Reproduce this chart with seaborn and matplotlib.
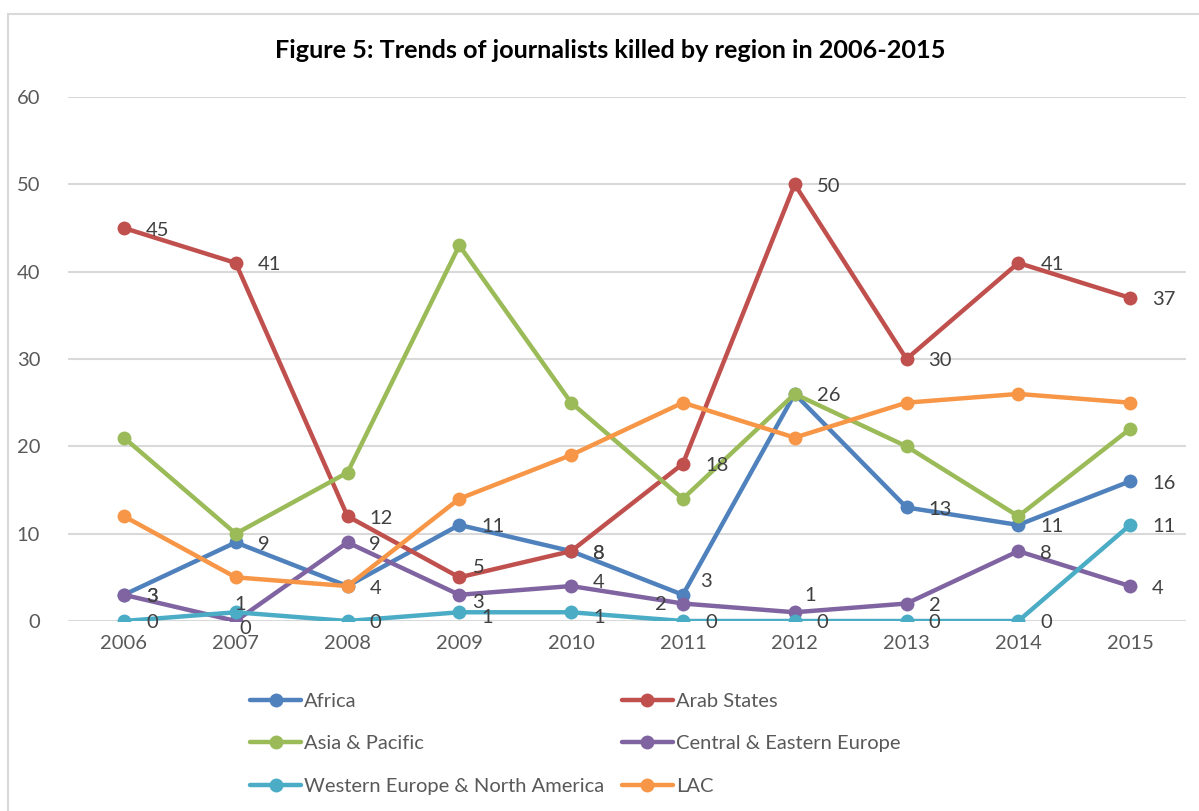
import numpy as np
import pandas as pd
import matplotlib
matplotlib.use("Agg")
import matplotlib.pyplot as plt
import seaborn as sns
from matplotlib.lines import Line2D
from matplotlib.patches import Rectangle

# ---------------- data ----------------
years = ["2006", "2007", "2008", "2009", "2010", "2011", "2012", "2013", "2014", "2015"]
africa = [3, 9, 4, 11, 8, 3, 26, 13, 11, 16]
arab_states = [45, 41, 12, 5, 8, 18, 50, 30, 41, 37]
asia_pacific = [21, 10, 17, 43, 25, 14, 26, 20, 12, 22]
central_eastern_europe = [3, 0, 9, 3, 4, 2, 1, 2, 8, 4]
western_europe_na = [0, 1, 0, 1, 1, 0, 0, 0, 0, 11]
lac = [12, 5, 4, 14, 19, 25, 21, 25, 26, 25]

series_names = ["Africa", "Arab States", "Asia & Pacific",
                "Central & Eastern Europe", "Western Europe & North America", "LAC"]
series_values = [africa, arab_states, asia_pacific,
                 central_eastern_europe, western_europe_na, lac]
labelled = {"Africa", "Arab States", "Central & Eastern Europe",
            "Western Europe & North America"}
title = "Figure 5: Trends of journalists killed by region in 2006-2015"

# ---------------- style ----------------
colors = {"Africa": "#4F81BD", "Arab States": "#C0504D", "Asia & Pacific": "#9BBB59",
          "Central & Eastern Europe": "#8064A2",
          "Western Europe & North America": "#4BACC6", "LAC": "#F79646"}

# label offsets in pixels (dx, dy upward, ha); default to the right of the point
label_offsets = {
    ("Arab States", 3): (14, 10, "left"),
    ("Africa", 5): (17, 13, "left"),
    ("Central & Eastern Europe", 1): (4, -7, "left"),
    ("Central & Eastern Europe", 3): (13, -8, "left"),
    ("Central & Eastern Europe", 4): (22, 4, "left"),
    ("Central & Eastern Europe", 5): (-16, -1, "right"),
    ("Central & Eastern Europe", 6): (10, 17, "left"),
    ("Western Europe & North America", 1): (-1, 8, "left"),
    ("Western Europe & North America", 3): (22, -5, "left"),
    ("Western Europe & North America", 4): (22, -5, "left"),
}

rows = []
for name, vals in zip(series_names, series_values):
    for i, v in enumerate(vals):
        rows.append({"idx": i, "year": years[i], "value": v, "region": name})
df = pd.DataFrame(rows)

sns.set_theme(style="white")
plt.rcParams["font.family"] = ["Lato", "DejaVu Sans"]
FS = 14.5

fig = plt.figure(figsize=(11.99, 8.11), dpi=100)
ax = fig.add_axes([68 / 1199, 1 - 621 / 811, (1186 - 68) / 1199, (621 - 97) / 811])

# outer frame
fig.patches.append(Rectangle((8 / 1199, -0.01), 1.02, 1 - 14 / 811 + 0.01,
                             transform=fig.transFigure, fill=False,
                             edgecolor="#D9D9D9", linewidth=1.5))

sns.lineplot(data=df, x="idx", y="value", hue="region", hue_order=series_names,
             palette=colors, marker="o", markersize=10, markeredgewidth=0,
             linewidth=3.2, ax=ax, legend=False, sort=False)

ax.set_xlim(-0.5, 9.5)
ax.set_ylim(0, 60)
ax.set_yticks(range(0, 61, 10))
ax.set_xticks(range(len(years)))
ax.set_xticklabels(years)
ax.yaxis.grid(True, color="#D9D9D9", linewidth=1.5)
ax.set_axisbelow(True)
for s in ax.spines.values():
    s.set_visible(False)
ax.tick_params(axis="both", length=0, labelsize=FS, labelcolor="#595959")
ax.tick_params(axis="y", pad=20)
ax.tick_params(axis="x", pad=10)
ax.set_xlabel("")
ax.set_ylabel("")

# data labels
for name, vals in zip(series_names, series_values):
    if name not in labelled:
        continue
    for i, v in enumerate(vals):
        dx, dy, ha = label_offsets.get((name, i), (22, -2, "left"))
        ax.annotate(str(v), (i, v), xytext=(dx, dy), textcoords="offset pixels",
                    ha=ha, va="center", fontsize=FS, color="#404040")

fig.text(610 / 1199, 1 - 50 / 811, title, ha="center", va="center",
         fontsize=18.2, fontweight="bold", color="black")

# legend (row-wise order like the original)
order = [0, 2, 4, 1, 3, 5]
handles = [Line2D([0], [0], color=colors[series_names[k]], linewidth=3.2,
                  marker="o", markersize=10, markeredgewidth=0) for k in order]
labels = [series_names[k] for k in order]
leg = fig.legend(handles, labels, ncol=2, loc="upper left",
                 bbox_to_anchor=(242 / 1199, 1 - 685 / 811), frameon=False,
                 fontsize=FS, handlelength=2.55, handletextpad=0.15,
                 columnspacing=0.85, labelspacing=1.25, borderaxespad=0)
for t in leg.get_texts():
    t.set_color("#595959")

fig.savefig("out.png", dpi=100, facecolor="white")
